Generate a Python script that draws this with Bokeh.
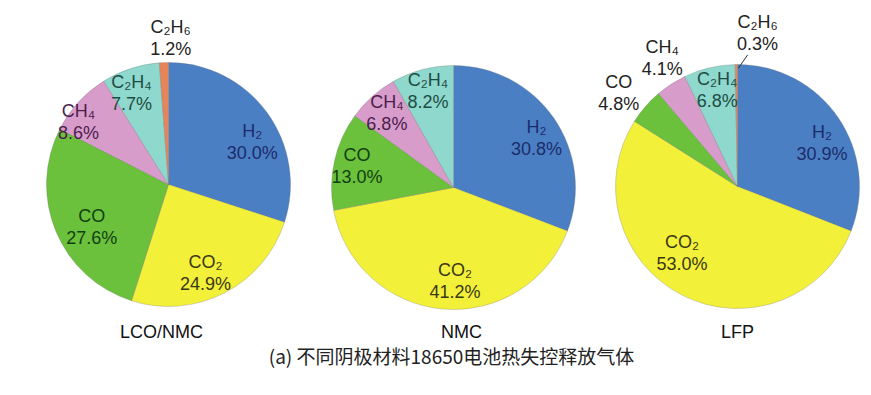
import math
from bokeh.plotting import figure
from bokeh.models import Range1d, ColumnDataSource
from bokeh.embed import file_html
from bokeh.resources import INLINE
from bokeh.core.properties import value

# ---------------- data ----------------
categories = ["LCO/NMC", "NMC", "LFP"]
gases = ["H₂", "CO₂", "CO", "CH₄", "C₂H₄", "C₂H₆"]
lco_nmc_pct = [30.0, 24.9, 27.6, 8.6, 7.7, 1.2]
nmc_pct = [30.8, 41.2, 13.0, 6.8, 8.2, 0.0]
lfp_pct = [30.9, 53.0, 4.8, 4.1, 6.8, 0.3]
caption_text = "(a) 不同阴极材料18650电池热失控释放气体"

series = [lco_nmc_pct, nmc_pct, lfp_pct]

# ---------------- layout / style ----------------
W, H = 871, 395
slice_colors = ["#4b7fc3", "#f3f03a", "#6bc13b", "#d89ccb", "#8fd8cd", "#e8845a"]
inside_text_colors = ["#1b2c6b", "#3a3814", "#123f12", "#4b1d4b", "#1d4c44", "#222222"]
outside_text_color = "#222222"
pie_centers = [(168, 184), (453, 187), (737, 186)]  # screen px
pie_radius = 122
cat_label_dx = [-7, 8, 0]
cat_label_y = 331
# label placement per slice: (radius fraction, angle nudge deg)
label_place = [
    [(0.77, -9), (0.79, -4.6), (0.72, 6.5), (0.90, 7.5), (0.81, 3.8), (1.20, -3)],
    [(0.79, -4), (0.77, 6), (0.81, 0), (0.82, 0), (0.82, 0), None],
    [(0.78, -7), (0.71, -13), (1.24, 2.7), (1.22, -2.6), (0.81, -1.5), (1.27, -8)],
]
leader = [[False] * 6, [False] * 6, [False] * 5 + [True]]
FONT = "Liberation Sans"


def sy(y):
    return H - y


p = figure(width=W, height=H, x_range=Range1d(0, W), y_range=Range1d(0, H),
           output_backend="svg", toolbar_location=None, min_border=0)
p.axis.visible = False
p.grid.visible = False
p.outline_line_color = None
p.background_fill_color = "white"
p.border_fill_color = "white"

wx, wy, ws, we, wc = [], [], [], [], []
tx, ty, tt, tc = [], [], [], []
lx0, ly0, lx1, ly1 = [], [], [], []

for k, vals in enumerate(series):
    cx, cys = pie_centers[k]
    cy = sy(cys)
    total = sum(vals)
    cum = 0.0
    for i, v in enumerate(vals):
        if v <= 0:
            continue
        a0 = cum / total
        a1 = (cum + v) / total
        cum += v
        start = math.radians(90 - a1 * 360)
        end = math.radians(90 - a0 * 360)
        wx.append(cx); wy.append(cy); ws.append(start); we.append(end)
        wc.append(slice_colors[i])
        place = label_place[k][i]
        if place is None:
            continue
        frac, nudge = place
        mid = math.radians(90 - (a0 + a1) / 2 * 360 + nudge)
        lx = cx + pie_radius * frac * math.cos(mid)
        ly = cy + pie_radius * frac * math.sin(mid)
        col = inside_text_colors[i] if frac < 1 else outside_text_color
        tx += [lx, lx]; ty += [ly + 11, ly - 11]
        tt += [gases[i], f"{v:.1f}%"]; tc += [col, col]
        if leader[k][i]:
            m0 = math.radians(90 - (a0 + a1) / 2 * 360)
            lx0.append(cx + pie_radius * 0.97 * math.cos(m0) + 2)
            ly0.append(cy + pie_radius * 0.97 * math.sin(m0))
            lx1.append(lx - 10)
            ly1.append(ly - 22)

p.wedge(x="x", y="y", radius=pie_radius, start_angle="s", end_angle="e",
        direction="anticlock", fill_color="c", line_color="#6a6a6a",
        line_alpha=0.45, line_width=0.6,
        source=ColumnDataSource(dict(x=wx, y=wy, s=ws, e=we, c=wc)))

p.text(x="x", y="y", text="t", text_color="c",
       source=ColumnDataSource(dict(x=tx, y=ty, t=tt, c=tc)),
       text_font=value(FONT), text_font_size="18px",
       text_align="center", text_baseline="middle")

if lx0:
    p.segment(x0=lx0, y0=ly0, x1=lx1, y1=ly1, line_color="#333333", line_width=1)

# category labels
cat_x = [pie_centers[k][0] + cat_label_dx[k] for k in range(len(categories))]
p.text(x=cat_x, y=[sy(cat_label_y)] * len(categories), text=categories,
       text_font=value(FONT), text_font_size="18px", text_color="#111111",
       text_align="center", text_baseline="middle")

# caption
p.text(x=[451], y=[sy(355)], text=[caption_text],
       text_font=value("Noto Sans CJK SC"), text_font_size="19px",
       text_color="#222222", text_align="center", text_baseline="middle")

open("out.html", "w").write(file_html(p, INLINE))
